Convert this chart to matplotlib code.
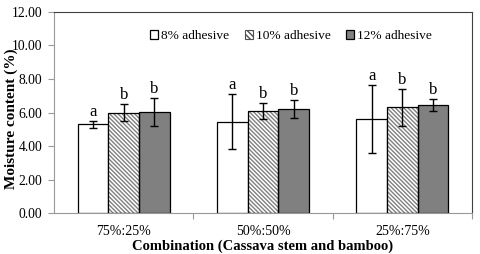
import matplotlib.pyplot as plt
import matplotlib.patches as mpatches
import numpy as np

plt.rcParams['font.family'] = ['Liberation Serif', 'DejaVu Serif']

kombinacje = ["75%:25%", "50%:50%", "25%:75%"]
serie = ["8% adhesive", "10% adhesive", "12% adhesive"]
wartosci = [
    [5.30, 5.45, 5.61],
    [5.99, 6.09, 6.31],
    [6.03, 6.21, 6.47],
]
bledy = [
    [0.20, 1.65, 2.02],
    [0.52, 0.46, 1.09],
    [0.82, 0.52, 0.35],
]
litery = [
    ["a", "a", "a"],
    ["b", "b", "b"],
    ["b", "b", "b"],
]

fig = plt.figure(figsize=(4.8, 2.54), dpi=100)
ax = fig.add_axes([0.1125, 0.161, 0.871, 0.792])

x = np.arange(len(kombinacje))
w = 0.22
uchwyty = []
for i in range(3):
    pos = x + (i - 1) * w
    if i == 0:
        b = ax.bar(pos, wartosci[i], w, color="white", edgecolor="black", linewidth=0.9, zorder=2)
        uchwyty.append(b)
    elif i == 1:
        ax.bar(pos, wartosci[i], w, color="white", edgecolor="#808080", hatch="\\\\\\\\\\\\\\\\", linewidth=0, zorder=2)
        ax.bar(pos, wartosci[i], w, color="none", edgecolor="black", linewidth=0.9, zorder=3)
        uchwyty.append(mpatches.Patch(facecolor="white", edgecolor="#505050", hatch="\\\\\\\\\\\\", linewidth=0.8))
    else:
        b = ax.bar(pos, wartosci[i], w, color="#808080", edgecolor="black", linewidth=0.9, zorder=2)
        uchwyty.append(b)
    ax.errorbar(pos, wartosci[i], yerr=bledy[i], fmt="none", ecolor="black", elinewidth=1.0, capsize=3, capthick=1.0, zorder=4)
    for j in range(3):
        ax.text(pos[j], wartosci[i][j] + bledy[i][j] + 0.05, litery[i][j], ha="center", va="bottom", fontsize=12)

ax.set_xlim(-0.5, 2.5)
ax.set_ylim(0, 12)
ax.set_yticks(np.arange(0, 12.1, 2))
ax.set_yticklabels(["%.2f" % v for v in np.arange(0, 12.1, 2)], fontsize=9.8)
ax.set_xticks([0.5, 1.5, 2.5])
ax.set_xticklabels([])
ax.set_xticks(x, minor=True)
ax.set_xticklabels(kombinacje, minor=True, fontsize=10)
ax.tick_params(axis="x", which="minor", length=0, pad=8.5)
ax.tick_params(axis="x", which="major", length=4, color="#999999", direction="out")
ax.tick_params(axis="y", length=4, color="#999999", direction="out", pad=4.5)

for s in ["left", "bottom"]:
    ax.spines[s].set_color("#999999")
for s in ["top", "right"]:
    ax.spines[s].set_color("#404040")

ax.set_ylabel("Moisture content (%)", fontsize=11, fontweight="bold", va="center")
ax.yaxis.set_label_coords(-0.103, 0.47)
ax.set_xlabel("Combination (Cassava stem and bamboo)", fontsize=10.5, fontweight="bold")
ax.xaxis.set_label_coords(0.5, -0.13)

ax.legend(uchwyty, serie, ncol=3, frameon=False, fontsize=9.6, loc="center",
          bbox_to_anchor=(0.567, 0.88), handlelength=0.6, handleheight=0.6,
          handletextpad=0.2, columnspacing=1.2)

fig.savefig("out.png", dpi=100)
